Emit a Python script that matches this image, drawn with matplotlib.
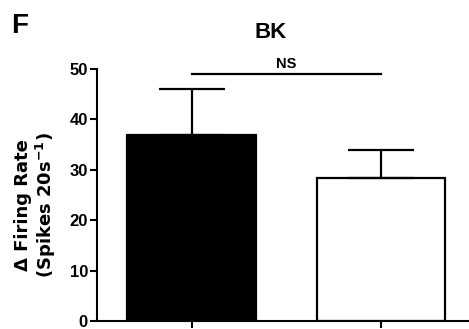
import matplotlib
matplotlib.use("Agg")
import matplotlib.pyplot as plt

# Data
groups = ["Group 1", "Group 2"]
means = [37.0, 28.4]
sem = [9.0, 5.6]
bar_colors = ["black", "white"]
y_ticks = [0, 10, 20, 30, 40, 50]
sig_label = "NS"
sig_level = 49.1

plt.rcParams["mathtext.default"] = "bf"
plt.rcParams["mathtext.fontset"] = "dejavusans"

W, H = 469, 329
fig = plt.figure(figsize=(W / 100, H / 100), dpi=100)
ax = fig.add_axes([97 / W, 8 / H, (475.5 - 97) / W, 252 / H])

x = list(range(len(groups)))
ax.bar(x, means, width=0.68, color=bar_colors, edgecolor="black",
       linewidth=1.6, zorder=2)
ax.errorbar(x, means, yerr=[[0] * len(sem), sem], fmt="none", ecolor="black",
            elinewidth=1.6, capsize=23.5, capthick=1.6, zorder=3)

ax.set_xlim(-0.5, 1.5)
ax.set_ylim(0, 50)
ax.set_yticks(y_ticks)
ax.set_xticks(x)
ax.set_xticklabels([])
for s in ("top", "right"):
    ax.spines[s].set_visible(False)
for s in ("left", "bottom"):
    ax.spines[s].set_linewidth(1.5)
ax.tick_params(axis="both", direction="out", length=5, width=1.5, pad=1.5)
for lab in ax.get_yticklabels():
    lab.set_fontfamily("Liberation Sans")
    lab.set_fontweight("bold")
    lab.set_fontsize(12)

# significance bar
ax.plot([0, 1], [sig_level, sig_level], color="black", lw=1.6, clip_on=False)
ax.text(0.5, sig_level + 0.5, sig_label, ha="center", va="bottom",
        fontsize=10.5, fontweight="bold", family="Liberation Sans", clip_on=False)

# title and panel letter
fig.text(271 / W, 1 - 32 / H, "BK", ha="center", va="center",
         fontsize=16, fontweight="bold", family="Liberation Sans")
fig.text(11 / W, 1 - 26 / H, "F", ha="left", va="center",
         fontsize=20, fontweight="bold", family="Liberation Sans")

fig.text(36 / W, 1 - 205 / H, "\u0394 Firing Rate\n(Spikes 20s$^{-1}$)",
         rotation=90, ha="center", va="center", multialignment="center",
         fontsize=13, fontweight="bold", family="DejaVu Sans", linespacing=1.15)

fig.savefig("out.png", dpi=100)
